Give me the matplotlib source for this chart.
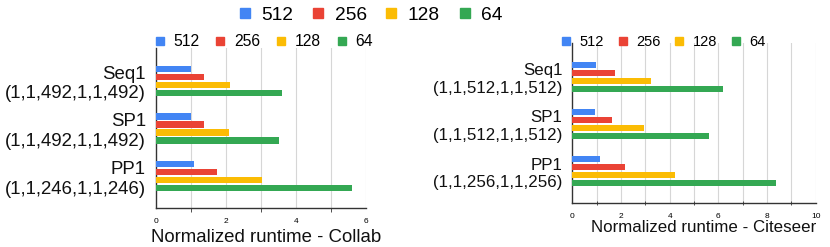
import numpy as np
import matplotlib
matplotlib.use('Agg')
import matplotlib.pyplot as plt
from matplotlib.lines import Line2D

plt.rcParams['font.family'] = ['Liberation Sans', 'DejaVu Sans']

# %% data
sizes = ['512', '256', '128', '64']
colors = ['#4285F4', '#EA4335', '#FBBC04', '#34A853']

collab_labels = ['Seq1\n(1,1,492,1,1,492)', 'SP1\n(1,1,492,1,1,492)', 'PP1\n(1,1,246,1,1,246)']
collab_512 = [1.0, 1.0, 1.09]
collab_256 = [1.38, 1.38, 1.75]
collab_128 = [2.12, 2.10, 3.04]
collab_64 = [3.60, 3.51, 5.62]

citeseer_labels = ['Seq1\n(1,1,512,1,1,512)', 'SP1\n(1,1,512,1,1,512)', 'PP1\n(1,1,256,1,1,256)']
citeseer_512 = [0.97, 0.95, 1.15]
citeseer_256 = [1.77, 1.63, 2.16]
citeseer_128 = [3.22, 2.96, 4.22]
citeseer_64 = [6.21, 5.62, 8.36]


def draw_panel(ax, labels, series, xmax, ylim, fs, leg_fs, leg_xy, xlabel, label_xy, tick_dir):
	y = np.arange(len(labels))
	step = 0.168
	for i, (vals, c) in enumerate(zip(series, colors)):
		ax.barh(y + (i - 1.5) * step, vals, height=0.135, color=c, zorder=3)
	ax.set_ylim(*ylim)
	ax.set_xlim(0, xmax)
	ax.set_yticks(y)
	ax.set_yticklabels(labels, fontsize=fs, ha='right', multialignment='right', color='#111111')
	ax.tick_params(axis='y', length=0, pad=7)
	ax.set_xticks(np.arange(0, xmax + 1, 2))
	ax.set_xticks(np.arange(1, xmax, 2), minor=True)
	ax.tick_params(axis='x', which='major', length=0, labelsize=6, pad=7)
	ax.tick_params(axis='x', which='minor', length=3, direction=tick_dir, color='#333333')
	for v in range(1, xmax + 1):
		ax.axvline(v, color='#d6d6d6', lw=0.8, zorder=1)
	for s in ['top', 'right']:
		ax.spines[s].set_visible(False)
	for s in ['left', 'bottom']:
		ax.spines[s].set_color('#333333')
		ax.spines[s].set_linewidth(1.0)
	ax.set_xlabel(xlabel, fontsize=fs, color='#111111')
	ax.xaxis.set_label_coords(*label_xy)
	handles = [Line2D([], [], marker='s', ls='none', color=c, markersize=5.8) for c in colors]
	ax.figure.legend(handles, sizes, loc='center left', bbox_to_anchor=leg_xy, ncol=4, frameon=False,
		fontsize=leg_fs, handlelength=0.6, handletextpad=0.6, columnspacing=1.0, borderpad=0, borderaxespad=0)


fig = plt.figure(figsize=(8.3, 2.47), dpi=100)

ax1 = fig.add_axes([155.7 / 830, 39 / 247, 210 / 830, 160 / 247])
draw_panel(ax1, collab_labels, [collab_512, collab_256, collab_128, collab_64], 6, (2.67, -0.69),
	13.4, 11.3, (155 / 830, 1 - 41.7 / 247), 'Normalized runtime - Collab', (0.528, -0.13), 'out')

ax2 = fig.add_axes([572.3 / 830, 44 / 247, 243.4 / 830, 160 / 247])
draw_panel(ax2, citeseer_labels, [citeseer_512, citeseer_256, citeseer_128, citeseer_64], 10, (2.68, -0.72),
	12.2, 10.5, (562 / 830, 1 - 42 / 247), 'Normalized runtime - Citeseer', (0.539, -0.105), 'inout')

# top legend
handles = [Line2D([], [], marker='s', ls='none', color=c, markersize=7.5) for c in colors]
fig.legend(handles, sizes, loc='center', bbox_to_anchor=(371 / 830, 1 - 15 / 247), ncol=4, frameon=False,
	fontsize=13.8, handlelength=0.55, handletextpad=0.6, columnspacing=1.0, borderpad=0, borderaxespad=0)

fig.savefig('out.png', dpi=100)
